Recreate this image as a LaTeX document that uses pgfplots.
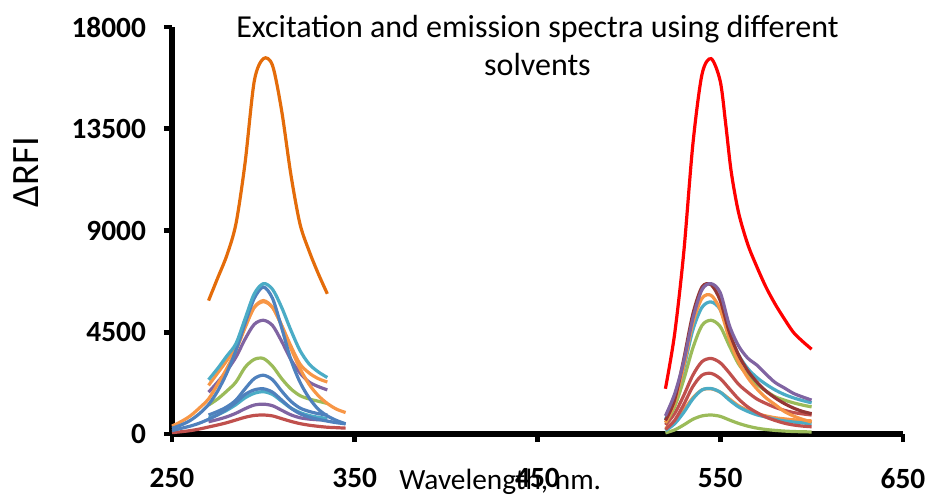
\documentclass[border=0pt]{standalone}
\usepackage{pgfplots}
\pgfplotsset{compat=1.18}
\usepackage{fontspec}
\setmainfont{Carlito}
\definecolor{xdorange}{HTML}{E46C0A}
\definecolor{xred}{HTML}{FF0000}
\definecolor{xblue}{HTML}{4F81BD}
\definecolor{xcred}{HTML}{C0504D}
\definecolor{xgreen}{HTML}{9BBB59}
\definecolor{xpurple}{HTML}{8064A2}
\definecolor{xcyan}{HTML}{4BACC6}
\definecolor{xorange}{HTML}{F79646}
\definecolor{xbrown}{HTML}{943634}
\begin{document}
\begin{tikzpicture}
\useasboundingbox (-129pt,-47.25pt) rectangle (567pt,325.5pt);
\begin{axis}[
  width=548.25pt, height=305.25pt, scale only axis,
  xmin=250, xmax=650, ymin=0, ymax=18000,
  axis x line=bottom, axis y line=left,
  axis line style={line width=4pt, -},
  every outer x axis line/.append style={line width=4pt, -},
  every outer y axis line/.append style={line width=4pt, -},
  xtick={250,350,450,550,650}, ytick={0,4500,9000,13500,18000},
  scaled y ticks=false, scaled x ticks=false,
  tick align=outside, major tick length=6pt,
  tick style={line width=3.5pt, black},
  every tick label/.append style={font=\bfseries\fontsize{22}{26}\selectfont},
  /pgf/number format/assume math mode=true,
  /pgf/number format/1000 sep={},
  xticklabel style={yshift=-16pt},
  yticklabel style={xshift=-10pt},
  xlabel={Wavelength, nm.},
  xlabel style={at={(axis description cs:0.449,-0.118)}, anchor=center, font=\fontsize{22}{26}\selectfont},
  ylabel={ΔRFI},
  ylabel style={at={(axis description cs:-0.199,0.644)}, anchor=center, font=\fontsize{29}{32}\selectfont},
  title={Excitation and emission spectra using different\\solvents},
  every axis title/.style={at={(0.5,1)}, anchor=north, yshift=12pt, align=center, font=\fontsize{24}{28.5}\selectfont},
  sp/.style={smooth, no marks, line width=2.4pt},
  clip=false,
]
% ---- excitation (left) ----
\addplot[sp, xcred] coordinates {(250,60)(255,100)(260,150)(265,220)(270,310)(275,400)(280,500)(285,620)(290,740)(295,820)(300,840)(305,800)(310,680)(315,560)(320,460)(325,390)(330,340)(335,300)(340,280)(345,260)};
\addplot[sp, xpurple] coordinates {(270,540)(275,640)(280,760)(285,920)(290,1120)(295,1280)(300,1320)(305,1250)(310,1050)(315,850)(320,720)(325,660)(330,630)(335,620)};
\addplot[sp, xcyan] coordinates {(270,700)(275,850)(280,1050)(285,1300)(290,1600)(295,1800)(300,1870)(305,1750)(310,1450)(315,1150)(320,950)(325,820)(330,740)(335,690)};
\addplot[sp, xblue] coordinates {(250,150)(255,250)(260,350)(265,480)(270,650)(275,850)(280,1100)(285,1400)(290,1750)(295,1950)(300,2000)(305,1850)(310,1500)(315,1150)(320,900)(325,750)(330,650)(335,570)(340,500)(345,450)};
\addplot[sp, xblue] coordinates {(270,840)(275,1000)(280,1200)(285,1500)(290,2000)(295,2450)(300,2600)(305,2400)(310,1900)(315,1450)(320,1150)(325,1000)(330,900)(335,840)};
\addplot[sp, xgreen] coordinates {(270,1280)(275,1550)(280,1900)(285,2300)(290,2950)(295,3300)(300,3340)(305,3000)(310,2450)(315,2000)(320,1700)(325,1550)(330,1450)(335,1350)};
\addplot[sp, xpurple] coordinates {(270,1850)(275,2300)(280,2800)(285,3400)(290,4200)(295,4850)(300,5030)(305,4800)(310,4100)(315,3300)(320,2700)(325,2300)(330,2100)(335,1950)};
\addplot[sp, xorange] coordinates {(270,2150)(275,2700)(280,3250)(285,3900)(290,4800)(295,5600)(300,5850)(305,5600)(310,4800)(315,3900)(320,3100)(325,2700)(330,2450)(335,2300)};
\addplot[sp, xorange] coordinates {(250,350)(255,550)(260,800)(265,1150)(270,1550)(275,2200)(280,2900)(285,3700)(290,4700)(295,5600)(300,5900)(305,5600)(310,4800)(315,3800)(320,2900)(325,2200)(330,1700)(335,1350)(340,1100)(345,950)};
\addplot[sp, xblue] coordinates {(250,250)(255,400)(260,600)(265,900)(270,1300)(275,1900)(280,2700)(285,3700)(290,4900)(295,6000)(300,6500)(305,6000)(310,4700)(315,3300)(320,2300)(325,1600)(330,1100)(335,800)(340,600)(345,450)};
\addplot[sp, xcyan] coordinates {(270,2400)(275,2900)(280,3450)(285,4000)(290,5100)(295,6200)(300,6650)(305,6400)(310,5600)(315,4600)(320,3700)(325,3100)(330,2750)(335,2500)};
\addplot[sp, xdorange] coordinates {(270,5900)(275,6900)(280,7900)(285,9300)(290,12000)(295,15600)(300,16600)(305,16300)(310,14300)(315,11500)(320,9300)(325,8100)(330,7100)(335,6200)};
% ---- emission (right) ----
\addplot[sp, xgreen] coordinates {(520,50)(525,180)(530,400)(535,650)(540,800)(545,840)(550,780)(555,620)(560,470)(565,350)(570,260)(575,200)(580,160)(585,130)(590,110)(595,100)(600,90)};
\addplot[sp, xorange] coordinates {(520,250)(525,550)(530,1050)(535,1600)(540,1950)(545,2000)(550,1850)(555,1550)(560,1250)(565,1050)(570,900)(575,800)(580,720)(585,670)(590,630)(595,600)(600,580)};
\addplot[sp, xcyan] coordinates {(520,150)(525,450)(530,950)(535,1550)(540,1950)(545,2010)(550,1850)(555,1500)(560,1200)(565,1000)(570,850)(575,750)(580,650)(585,580)(590,530)(595,490)(600,450)};
\addplot[sp, xcred] coordinates {(520,200)(525,600)(530,1300)(535,2100)(540,2600)(545,2680)(550,2450)(555,2000)(560,1550)(565,1200)(570,950)(575,750)(580,600)(585,480)(590,400)(595,350)(600,320)};
\addplot[sp, xcred] coordinates {(520,400)(525,900)(530,1700)(535,2600)(540,3200)(545,3340)(550,3150)(555,2700)(560,2200)(565,1850)(570,1550)(575,1350)(580,1180)(585,1050)(590,950)(595,890)(600,840)};
\addplot[sp, xgreen] coordinates {(520,500)(525,1200)(530,2400)(535,3800)(540,4800)(545,5030)(550,4750)(555,3900)(560,3100)(565,2600)(570,2200)(575,1900)(580,1650)(585,1500)(590,1380)(595,1280)(600,1200)};
\addplot[sp, xcyan] coordinates {(520,650)(525,1500)(530,2900)(535,4600)(540,5600)(545,5840)(550,5500)(555,4400)(560,3500)(565,2900)(570,2500)(575,2200)(580,1950)(585,1750)(590,1600)(595,1480)(600,1380)};
\addplot[sp, xorange] coordinates {(520,500)(525,1400)(530,3000)(535,4900)(540,6000)(545,6130)(550,5500)(555,4200)(560,3200)(565,2500)(570,2000)(575,1600)(580,1300)(585,1000)(590,800)(595,650)(600,530)};
\addplot[sp, xbrown] coordinates {(520,600)(525,1500)(530,3300)(535,5300)(540,6500)(545,6600)(550,5900)(555,4500)(560,3500)(565,2800)(570,2300)(575,1900)(580,1600)(585,1350)(590,1150)(595,1000)(600,900)};
\addplot[sp, xpurple] coordinates {(520,800)(525,1760)(530,3200)(535,5100)(540,6380)(545,6650)(550,6250)(555,4800)(560,3900)(565,3360)(570,3050)(575,2650)(580,2280)(585,2040)(590,1800)(595,1640)(600,1500)};
\addplot[sp, xred] coordinates {(520,2000)(525,4400)(530,8000)(535,12800)(540,15900)(545,16600)(550,15600)(553,13700)(556,11600)(560,9800)(565,8400)(570,7400)(575,6500)(580,5750)(585,5100)(590,4500)(595,4100)(600,3750)};
\end{axis}
\end{tikzpicture}
\end{document}
